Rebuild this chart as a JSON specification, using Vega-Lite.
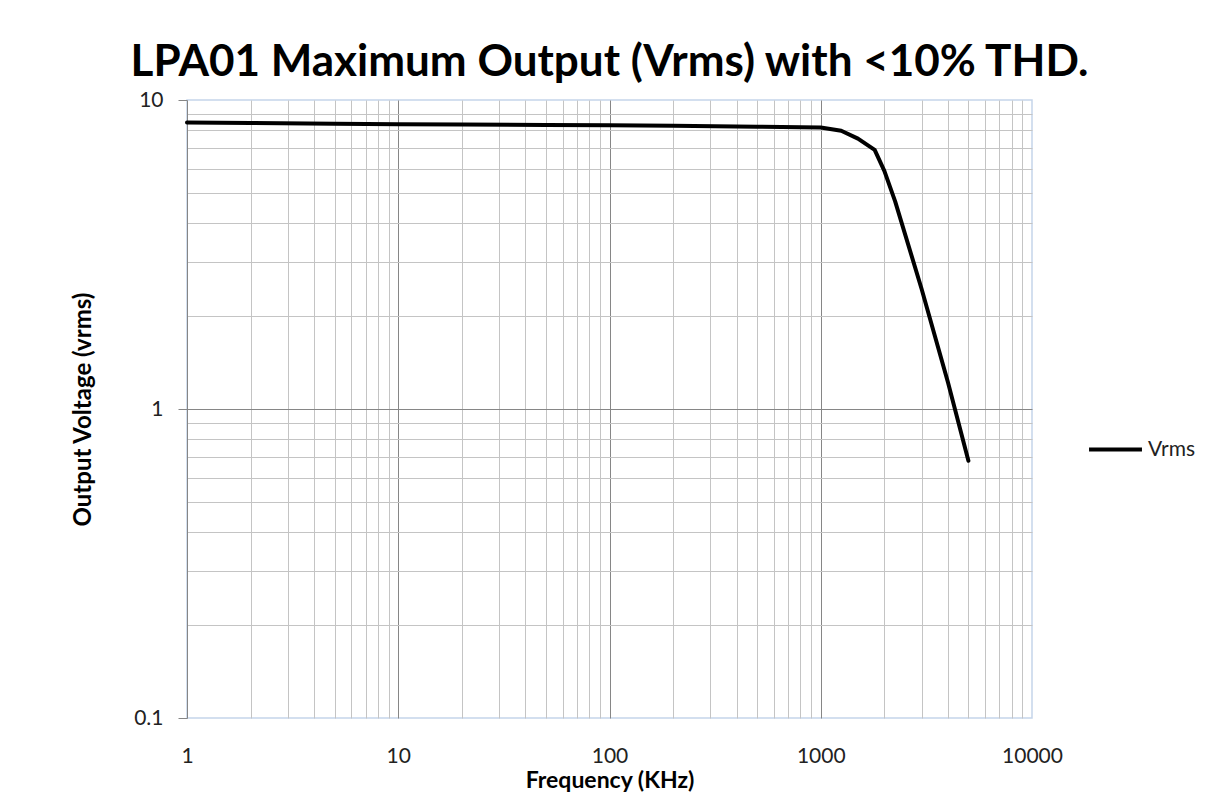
{
  "$schema": "https://vega.github.io/schema/vega-lite/v6.json",
  "autosize": "none",
  "width": 845,
  "height": 618,
  "padding": {"left": 187, "top": 100, "right": 196, "bottom": 78},
  "background": "white",
  "title": {
    "text": "LPA01 Maximum Output (Vrms) with <10% THD.",
    "font": "Lato",
    "fontSize": 44,
    "fontWeight": "bold",
    "color": "#000000",
    "anchor": "middle",
    "offset": 4
  },
  "data": {
    "values": [
      {"freq": 1, "vrms": 8.45, "series": "Vrms"},
      {"freq": 2, "vrms": 8.42, "series": "Vrms"},
      {"freq": 5, "vrms": 8.38, "series": "Vrms"},
      {"freq": 10, "vrms": 8.35, "series": "Vrms"},
      {"freq": 20, "vrms": 8.33, "series": "Vrms"},
      {"freq": 50, "vrms": 8.3, "series": "Vrms"},
      {"freq": 100, "vrms": 8.28, "series": "Vrms"},
      {"freq": 200, "vrms": 8.25, "series": "Vrms"},
      {"freq": 500, "vrms": 8.2, "series": "Vrms"},
      {"freq": 1000, "vrms": 8.15, "series": "Vrms"},
      {"freq": 1250, "vrms": 7.95, "series": "Vrms"},
      {"freq": 1500, "vrms": 7.5, "series": "Vrms"},
      {"freq": 1800, "vrms": 6.9, "series": "Vrms"},
      {"freq": 2000, "vrms": 5.9, "series": "Vrms"},
      {"freq": 2250, "vrms": 4.7, "series": "Vrms"},
      {"freq": 3000, "vrms": 2.45, "series": "Vrms"},
      {"freq": 4000, "vrms": 1.22, "series": "Vrms"},
      {"freq": 5000, "vrms": 0.68, "series": "Vrms"}
    ]
  },
  "mark": {"type": "line", "strokeWidth": 4, "strokeJoin": "round", "strokeCap": "round"},
  "encoding": {
    "x": {
      "field": "freq",
      "type": "quantitative",
      "scale": {"type": "log", "domain": [1, 10000], "nice": false},
      "axis": {
        "title": "Frequency (KHz)",
        "values": [1,2,3,4,5,6,7,8,9,10,20,30,40,50,60,70,80,90,100,200,300,400,500,600,700,800,900,1000,2000,3000,4000,5000,6000,7000,8000,9000,10000],
        "labelExpr": "indexof([1,10,100,1000,10000], datum.value) >= 0 ? '' + datum.value : ''",
        "grid": true,
        "gridColor": {"condition": {"test": "indexof([10,100,1000], datum.value) >= 0", "value": "#868686"}, "value": "#c4c4c4"},
        "gridOpacity": {"condition": {"test": "datum.value == 1 || datum.value == 10000", "value": 0}, "value": 1},
        "ticks": false,
        "domain": false,
        "labelPadding": 27,
        "labelFlush": false,
        "labelOverlap": false,
        "labelBound": false,
        "labelFont": "Lato",
        "labelFontSize": 21,
        "labelColor": "#222222",
        "titleFont": "Lato",
        "titleFontSize": 23,
        "titleFontWeight": "bold",
        "titleColor": "#000000",
        "titlePadding": 3
      }
    },
    "y": {
      "field": "vrms",
      "type": "quantitative",
      "scale": {"type": "log", "domain": [0.1, 10], "nice": false},
      "axis": {
        "title": "Output Voltage (vrms)",
        "values": [0.1,0.2,0.3,0.4,0.5,0.6,0.7,0.8,0.9,1,2,3,4,5,6,7,8,9,10],
        "labelExpr": "datum.value == 0.1 || datum.value == 1 || datum.value == 10 ? '' + datum.value : ''",
        "grid": true,
        "gridColor": {"condition": {"test": "datum.value == 1", "value": "#868686"}, "value": "#c4c4c4"},
        "gridOpacity": {"condition": {"test": "datum.value == 0.1 || datum.value == 10", "value": 0}, "value": 1},
        "ticks": true,
        "tickSize": 9,
        "tickColor": "#868686",
        "tickOpacity": {"condition": {"test": "datum.value == 0.1 || datum.value == 1 || datum.value == 10", "value": 1}, "value": 0},
        "domain": true,
        "domainColor": "#868686",
        "labelPadding": 15,
        "labelOverlap": false,
        "labelBound": false,
        "labelFlush": false,
        "labelFont": "Lato",
        "labelFontSize": 21,
        "labelColor": "#222222",
        "titleFont": "Lato",
        "titleFontSize": 24,
        "titleFontWeight": "bold",
        "titleColor": "#000000",
        "titlePadding": 38
      }
    },
    "color": {
      "field": "series",
      "type": "nominal",
      "scale": {"domain": ["Vrms"], "range": ["#000000"]},
      "legend": {
        "title": null,
        "orient": "none",
        "legendX": 900,
        "legendY": 321,
        "symbolType": "stroke",
        "symbolSize": 2800,
        "symbolStrokeWidth": 4,
        "labelFont": "Lato",
        "labelFontSize": 21,
        "labelColor": "#222222",
        "labelOffset": 4
      }
    }
  },
  "config": {
    "view": {"stroke": "#c5d5ea", "strokeWidth": 1.5}
  }
}
